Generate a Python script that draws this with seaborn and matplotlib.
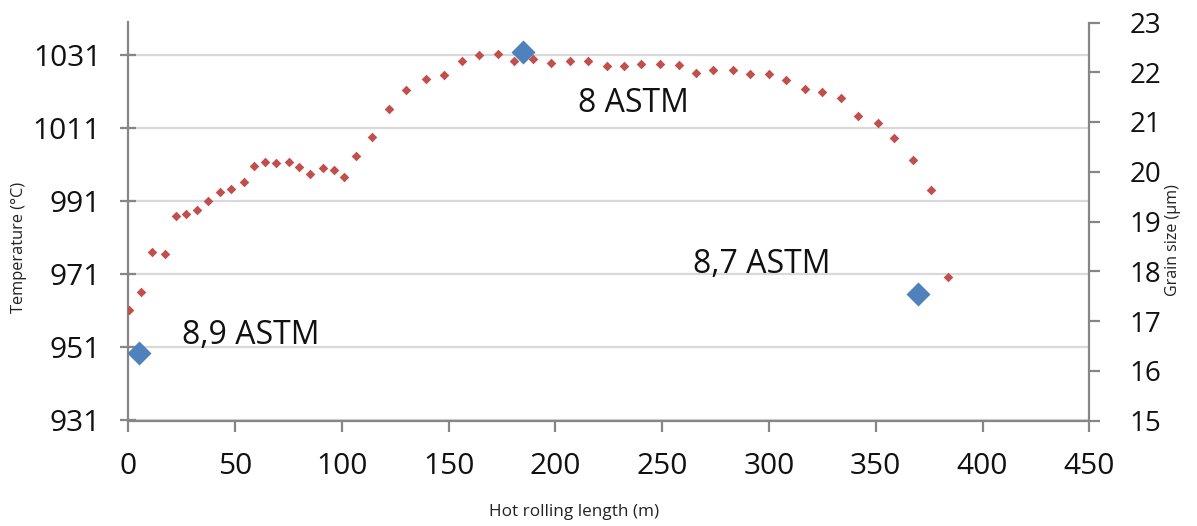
import matplotlib
matplotlib.use("Agg")
import matplotlib.pyplot as plt
import seaborn as sns
import numpy as np

# ---- data ----
length_m = [0.3, 6.1, 11.1, 17.3, 22.2, 27.2, 32.2, 37.2, 43.1, 48.2, 54.2, 58.9,
            64.2, 69.2, 75.1, 80.1, 85.1, 91.2, 96.2, 101.1, 106.8, 114.1, 122.1,
            130.2, 139.3, 148.0, 156.1, 164.2, 173.1, 180.6, 189.4, 198.0, 207.0,
            215.1, 224.0, 232.3, 240.1, 249.0, 257.9, 265.7, 273.6, 283.0, 291.0,
            300.0, 308.1, 317.0, 325.0, 333.9, 341.8, 350.9, 358.7, 367.6, 375.7,
            383.8]
temperature_c = [961.2, 966.2, 977.1, 976.6, 987.0, 987.6, 988.7, 991.0, 993.5,
                 994.3, 996.3, 1000.7, 1001.8, 1001.6, 1001.9, 1000.5, 998.6,
                 1000.2, 999.6, 997.8, 1003.4, 1008.7, 1016.2, 1021.5, 1024.5,
                 1025.6, 1029.5, 1031.2, 1031.5, 1029.4, 1029.9, 1029.0, 1029.4,
                 1029.4, 1028.2, 1028.2, 1028.7, 1028.6, 1028.4, 1026.3, 1026.9,
                 1027.0, 1025.9, 1026.0, 1024.2, 1021.9, 1021.1, 1019.3, 1014.3,
                 1012.5, 1008.4, 1002.4, 994.0, 970.2]

grain_length_m = [5.0, 184.7, 369.9]
grain_size_um = [16.36, 22.40, 17.54]
grain_labels = ["8,9 ASTM", "8 ASTM", "8,7 ASTM"]

temp_ticks = [931, 951, 971, 991, 1011, 1031]
grain_ticks = [15, 16, 17, 18, 19, 20, 21, 22, 23]
x_ticks = [0, 50, 100, 150, 200, 250, 300, 350, 400, 450]

# ---- style ----
sns.set_theme(style="white")
plt.rcParams['font.family'] = ['Open Sans', 'DejaVu Sans']

RED = "#c0504d"
BLUE = "#4f81bd"
AXIS = "#868686"
GRID = "#d9d9d9"
TXT = "#111111"

fig = plt.figure(figsize=(11.97, 5.26), dpi=100)
ax = fig.add_axes([128.3 / 1197, 1 - 420.5 / 526, (1089.3 - 128.3) / 1197, 398 / 526])
ax2 = ax.twinx()

sns.scatterplot(x=length_m, y=temperature_c, marker="D", s=24, color=RED,
                linewidth=0, ax=ax, zorder=3)
sns.scatterplot(x=grain_length_m, y=grain_size_um, marker="D", s=150, color=BLUE,
                linewidth=0, ax=ax2, zorder=4)

ax.set_xlim(0, 450)
ax.set_ylim(931, 1040)
ax2.set_ylim(15, 23)
ax.set_xticks(x_ticks)
ax.set_yticks(temp_ticks)
ax2.set_yticks(grain_ticks)

ax.yaxis.grid(True, color=GRID, linewidth=1.6)
ax.xaxis.grid(False)
ax.set_axisbelow(True)
ax2.grid(False)

for a in (ax, ax2):
    for s in a.spines.values():
        s.set_visible(False)
ax.spines['left'].set_visible(True)
ax.spines['bottom'].set_visible(True)
ax2.spines['right'].set_visible(True)
for s in (ax.spines['left'], ax.spines['bottom'], ax2.spines['right']):
    s.set_color(AXIS)
    s.set_linewidth(1.6)

ax.set_xlabel("")
ax.set_ylabel("")
ax2.set_ylabel("")

ax.tick_params(axis='y', direction='inout', length=11, width=1.6, color=AXIS,
               labelsize=21.5, pad=14, labelcolor=TXT, left=True)
ax.tick_params(axis='x', direction='out', length=8, width=1.6, color=AXIS,
               labelsize=21.5, pad=15, labelcolor=TXT, bottom=True)
ax2.tick_params(axis='y', which='major', direction='out', length=8, width=1.6,
                color=AXIS, labelsize=20, pad=21, labelcolor=TXT,
                right=True, labelright=True, left=False, labelleft=False)

# annotations for grain size points
label_pos = [(57.2, 954.4), (236.6, 1017.7), (296.5, 973.8)]
for txt, (lx, ly) in zip(grain_labels, label_pos):
    ax.text(lx, ly, txt, ha="center", va="center", fontsize=23, color=TXT,
            zorder=5)

fig.text(19 / 1197, 1 - 247 / 526, "Temperature (°C)", rotation=90, ha="center",
         va="center", fontsize=11.8, color="#222222")
fig.text(1173 / 1197, 1 - 240 / 526, "Grain size (µm)", rotation=90, ha="center",
         va="center", fontsize=11.5, color="#222222")
fig.text(574 / 1197, 1 - 512 / 526, "Hot rolling length (m)", ha="center",
         va="center", fontsize=12.3, color="#222222")

fig.savefig("out.png", dpi=100, facecolor="white")
